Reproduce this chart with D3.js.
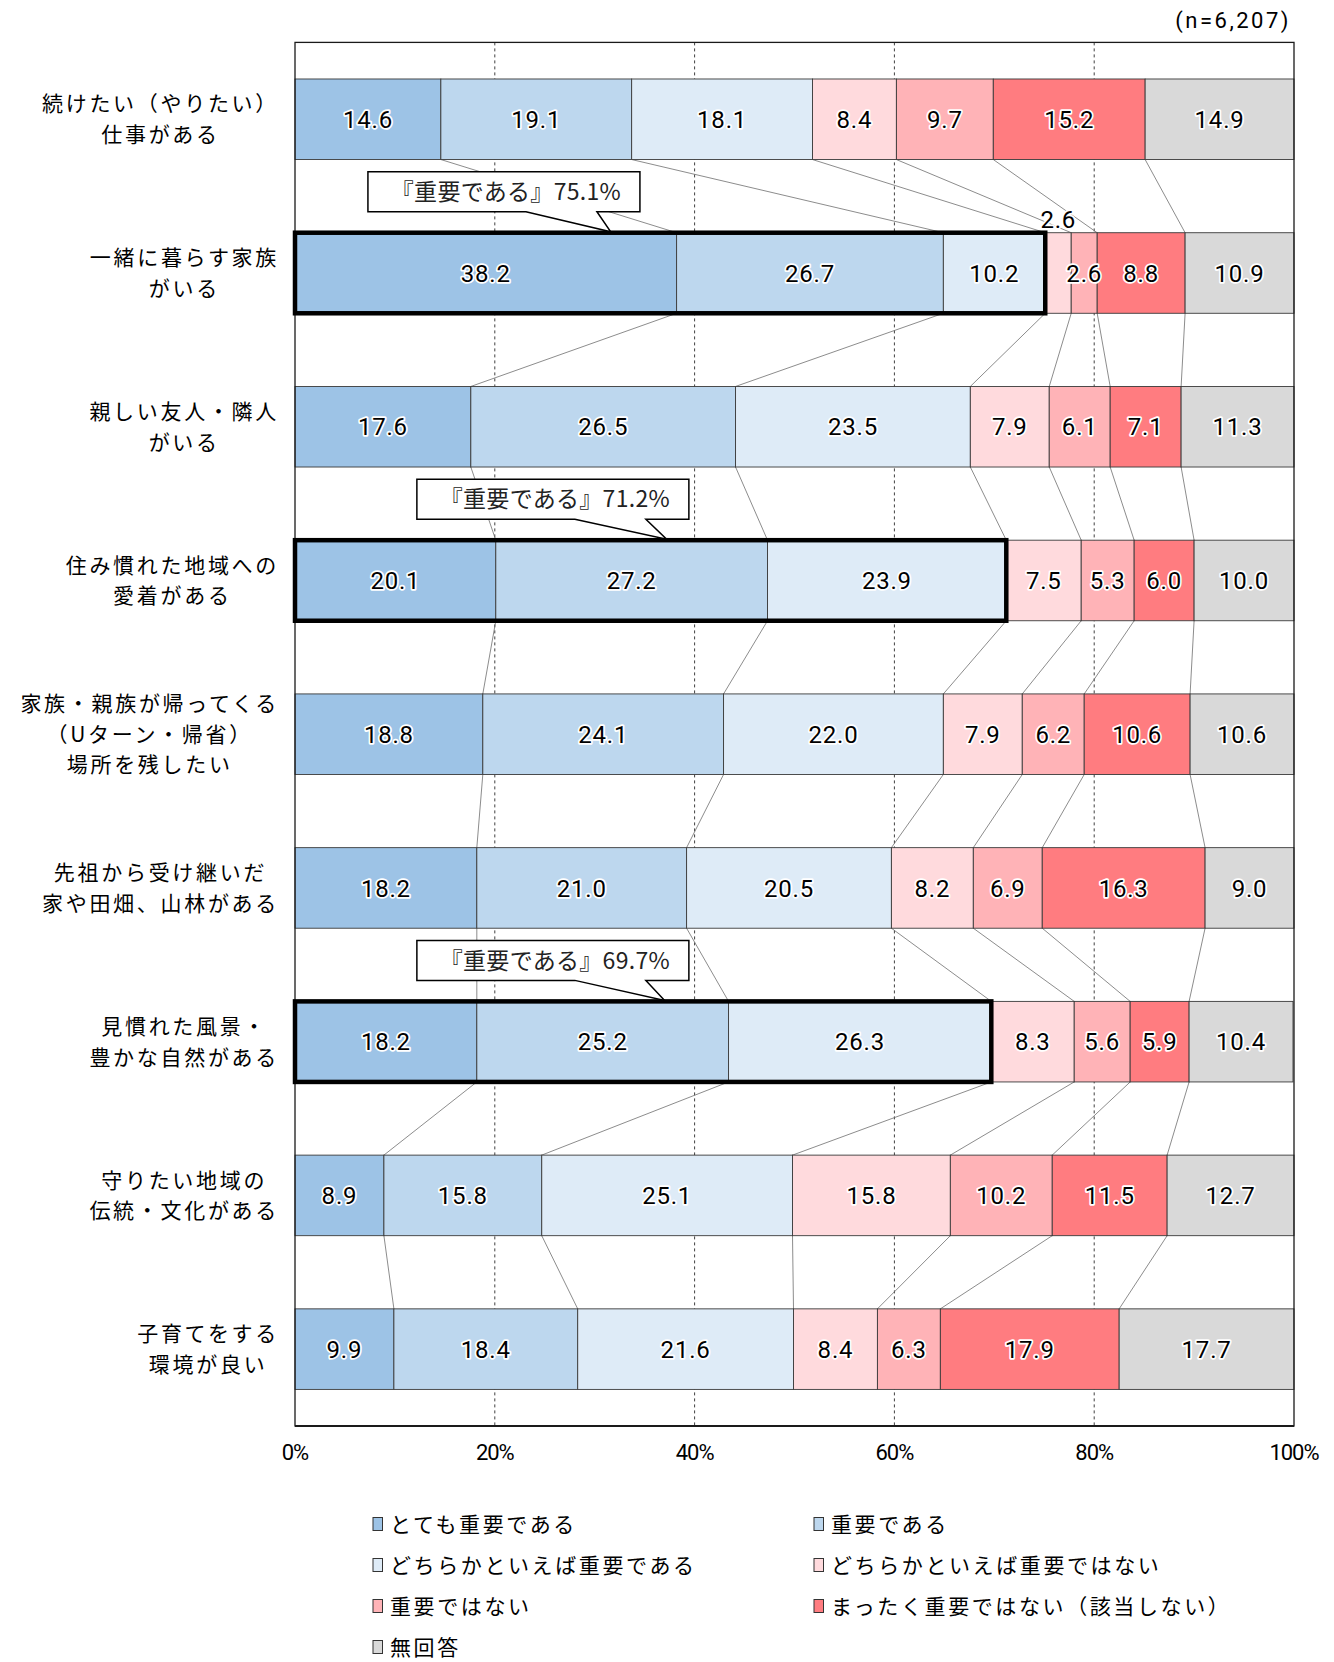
<!DOCTYPE html>
<html>
<head>
<meta charset="utf-8">
<script src="https://cdn.jsdelivr.net/npm/d3@7"></script>
<style>
  html, body { margin: 0; padding: 0; background: #fff; }
  svg { display: block; }
</style>
</head>
<body>
<svg id="chart" width="1334" height="1662"></svg>
<script>
// ---------------- DATA ----------------
const categories = [
  "続けたい（やりたい）\n仕事がある",
  "一緒に暮らす家族\nがいる",
  "親しい友人・隣人\nがいる",
  "住み慣れた地域への\n愛着がある",
  "家族・親族が帰ってくる\n（Uターン・帰省）\n場所を残したい",
  "先祖から受け継いだ\n家や田畑、山林がある",
  "見慣れた風景・\n豊かな自然がある",
  "守りたい地域の\n伝統・文化がある",
  "子育てをする\n環境が良い"
];
const seriesNames = [
  "とても重要である",
  "重要である",
  "どちらかといえば重要である",
  "どちらかといえば重要ではない",
  "重要ではない",
  "まったく重要ではない（該当しない）",
  "無回答"
];
const s1 = [14.6, 38.2, 17.6, 20.1, 18.8, 18.2, 18.2, 8.9, 9.9];
const s2 = [19.1, 26.7, 26.5, 27.2, 24.1, 21.0, 25.2, 15.8, 18.4];
const s3 = [18.1, 10.2, 23.5, 23.9, 22.0, 20.5, 26.3, 25.1, 21.6];
const s4 = [8.4, 2.6, 7.9, 7.5, 7.9, 8.2, 8.3, 15.8, 8.4];
const s5 = [9.7, 2.6, 6.1, 5.3, 6.2, 6.9, 5.6, 10.2, 6.3];
const s6 = [15.2, 8.8, 7.1, 6.0, 10.6, 16.3, 5.9, 11.5, 17.9];
const s7 = [14.9, 10.9, 11.3, 10.0, 10.6, 9.0, 10.4, 12.7, 17.7];
const seriesValues = [s1, s2, s3, s4, s5, s6, s7];
const tickValues = [0, 20, 40, 60, 80, 100];
const sampleNote = "(n=6,207)";
const highlightRows = [1, 3, 6];          // rows with 『重要である』 box
const highlightSeriesCount = 3;           // first three series combined
const calloutLabel = "『重要である』";
const labelAboveBar = [[1, 3]];           // [row, series] label drawn above bar

// ---------------- STYLE / LAYOUT ----------------
const colors = ["#9DC3E6", "#BDD7EE", "#DEEBF7", "#FFDADD", "#FFB3B7", "#FF7C80", "#D9D9D9"];
const plot = { left: 295, right: 1294, top: 42.4, bottom: 1426 };
const calloutLayout = [            // percent positions for callout box / tip (layout only)
  { boxLeft: 7.3, tip: 31.6 },
  { boxLeft: 12.2, tip: 37.2 },
  { boxLeft: 12.2, tip: 37.0 }
];
const svg = d3.select("#chart");
const cjk = "'Noto Sans CJK JP', 'Noto Sans', sans-serif";
const num = "Roboto, 'Liberation Sans', sans-serif";

const x = d3.scaleLinear().domain([0, 100]).range([plot.left, plot.right]);
const y = d3.scaleBand().domain(d3.range(categories.length))
  .range([plot.top, plot.bottom]).paddingInner(0.476).paddingOuter(0.238);

// stacked data
const rows = categories.map((c, i) => {
  let cum = 0;
  return seriesValues.map((s, k) => {
    const v = s[i];
    const seg = { row: i, k, v, x0: cum, x1: cum + v };
    cum += v;
    return seg;
  });
});
const cx = v => x(Math.min(100, v));

// plot background
svg.append("rect").attr("x", plot.left).attr("y", plot.top)
  .attr("width", plot.right - plot.left).attr("height", plot.bottom - plot.top)
  .attr("fill", "#fff").attr("stroke", "none");

// gridlines
svg.append("g").selectAll("line").data(tickValues.filter(t => t > 0 && t < 100)).join("line")
  .attr("x1", d => x(d)).attr("x2", d => x(d))
  .attr("y1", plot.top).attr("y2", plot.bottom)
  .attr("stroke", "#404040").attr("stroke-width", 1).attr("stroke-dasharray", "3,3");

// series lines
const sl = svg.append("g");
for (let i = 0; i < rows.length - 1; i++) {
  for (let k = 0; k < 6; k++) {
    sl.append("line")
      .attr("x1", cx(rows[i][k].x1)).attr("y1", y(i) + y.bandwidth())
      .attr("x2", cx(rows[i + 1][k].x1)).attr("y2", y(i + 1))
      .attr("stroke", "#6e6e6e").attr("stroke-width", 0.8);
  }
}

// bars
svg.append("g").selectAll("rect").data(rows.flat()).join("rect")
  .attr("x", d => cx(d.x0)).attr("width", d => cx(d.x1) - cx(d.x0))
  .attr("y", d => y(d.row)).attr("height", y.bandwidth())
  .attr("fill", d => colors[d.k]).attr("stroke", "#3a3a3a").attr("stroke-width", 0.9);

// plot frame
svg.append("rect").attr("x", plot.left).attr("y", plot.top)
  .attr("width", plot.right - plot.left).attr("height", plot.bottom - plot.top)
  .attr("fill", "none").attr("stroke", "#1a1a1a").attr("stroke-width", 1.3);
svg.append("line").attr("x1", plot.left).attr("x2", plot.right)
  .attr("y1", plot.bottom).attr("y2", plot.bottom)
  .attr("stroke", "#1a1a1a").attr("stroke-width", 2.2);

// highlight boxes
svg.append("g").selectAll("rect").data(highlightRows).join("rect")
  .attr("x", x(0))
  .attr("width", r => cx(rows[r][highlightSeriesCount - 1].x1) - x(0))
  .attr("y", r => y(r)).attr("height", y.bandwidth())
  .attr("fill", "none").attr("stroke", "#000").attr("stroke-width", 4.5);

// value labels
const isAbove = d => labelAboveBar.some(([r, k]) => r === d.row && k === d.k);
svg.append("g").selectAll("text").data(rows.flat()).join("text")
  .attr("x", d => (cx(d.x0) + cx(d.x1)) / 2)
  .attr("y", d => isAbove(d) ? y(d.row) - 13 : y(d.row) + y.bandwidth() / 2)
  .attr("dy", "0.36em")
  .attr("text-anchor", "middle")
  .attr("font-family", num).attr("font-size", 24).attr("letter-spacing", 0.8)
  .attr("fill", "#000").attr("stroke", "#fff").attr("stroke-width", 3.5)
  .attr("stroke-linejoin", "round").attr("paint-order", "stroke")
  .text(d => d.v.toFixed(1));

// category labels
const catG = svg.append("g");
categories.forEach((c, i) => {
  const lines = c.split("\n");
  const lh = 30.7;
  const cy = y(i) + y.bandwidth() / 2;
  const t = catG.append("text")
    .attr("font-family", cjk).attr("font-size", 21).attr("letter-spacing", 2.7)
    .attr("text-anchor", "middle").attr("fill", "#000");
  lines.forEach((ln, j) => {
    t.append("tspan").attr("x", 0)
      .attr("y", cy + (j - (lines.length - 1) / 2) * lh)
      .attr("dy", "0.36em").text(ln);
  });
  let maxW = 0;
  t.selectAll("tspan").each(function () { maxW = Math.max(maxW, this.getComputedTextLength()); });
  const center = 279 - maxW / 2;
  t.selectAll("tspan").attr("x", center);
});

// axis tick labels
svg.append("g").selectAll("text").data(tickValues).join("text")
  .attr("x", d => x(d)).attr("y", 1452).attr("dy", "0.36em")
  .attr("text-anchor", "middle")
  .attr("font-family", num).attr("font-size", 22).attr("letter-spacing", -1)
  .attr("fill", "#000").text(d => d + "%");

// n note
svg.append("text").attr("x", 1291).attr("y", 20).attr("dy", "0.36em")
  .attr("text-anchor", "end").attr("font-family", num).attr("font-size", 22)
  .attr("letter-spacing", 2.5)
  .attr("fill", "#000").text(sampleNote);

// callouts
const cg = svg.append("g");
highlightRows.forEach((r, idx) => {
  const L = calloutLayout[idx];
  const total = d3.sum(seriesValues.slice(0, highlightSeriesCount), s => s[r]);
  const bx = x(L.boxLeft), bw = 272, bh = 40;
  const barTop = y(r);
  const by = barTop - 21 - bh;
  const tipX = x(L.tip);
  const p = d3.path();
  p.moveTo(bx, by);
  p.lineTo(bx + bw, by);
  p.lineTo(bx + bw, by + bh);
  p.lineTo(bx + 229, by + bh);
  p.lineTo(tipX, barTop - 1);
  p.lineTo(bx + 158, by + bh);
  p.lineTo(bx, by + bh);
  p.closePath();
  cg.append("path").attr("d", p.toString())
    .attr("fill", "#fff").attr("stroke", "#000").attr("stroke-width", 1.5);
  cg.append("text").attr("x", bx + bw / 2 + 2).attr("y", by + bh / 2).attr("dy", "0.36em")
    .attr("text-anchor", "middle").attr("font-family", cjk).attr("font-size", 23)
    .attr("letter-spacing", 0.3)
    .attr("fill", "#222").text(calloutLabel + total.toFixed(1) + "%");
});

// legend
const legendPos = seriesNames.map((n, k) => ({
  name: n, k,
  x: k % 2 === 0 ? 373 : 814,
  y: 1524 + Math.floor(k / 2) * 41
}));
const lg = svg.append("g").selectAll("g").data(legendPos).join("g");
lg.append("rect").attr("x", d => d.x).attr("y", d => d.y - 6.5)
  .attr("width", 9.5).attr("height", 13)
  .attr("fill", d => colors[d.k]).attr("stroke", "#333").attr("stroke-width", 1);
lg.append("text").attr("x", d => d.x + 17).attr("y", d => d.y).attr("dy", "0.36em")
  .attr("font-family", cjk).attr("font-size", 21).attr("letter-spacing", 2.6)
  .attr("fill", "#000").text(d => d.name);
</script>
</body>
</html>
